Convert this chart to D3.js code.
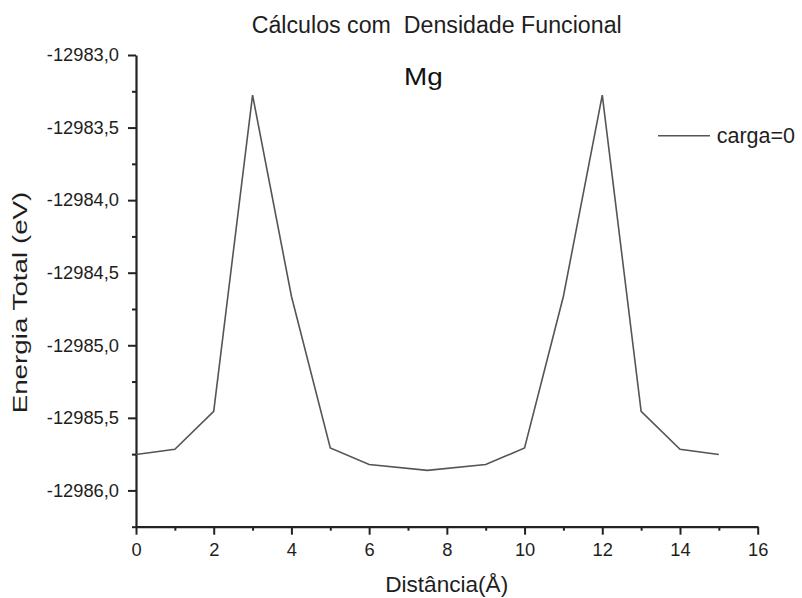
<!DOCTYPE html>
<html>
<head>
<meta charset="utf-8">
<script src="https://cdn.jsdelivr.net/npm/d3@7"></script>
<style>
  html, body { margin: 0; padding: 0; background: #ffffff; }
  svg { display: block; font-family: "Liberation Sans", Arial, sans-serif; }
</style>
</head>
<body>
<svg id="chart" width="802" height="598"></svg>
<script>
// Total energy versus distance (Mg, charge 0)
const distance = [0, 1, 2, 3, 4, 5, 6, 7.5, 9, 10, 11, 12, 13, 14, 15];
const energy = [
  -12985.752, -12985.717, -12985.455, -12983.276, -12984.662,
  -12985.708, -12985.821, -12985.862, -12985.821, -12985.708,
  -12984.662, -12983.276, -12985.455, -12985.717, -12985.752
];
const xMajorTicks = [0, 2, 4, 6, 8, 10, 12, 14, 16];
const xMinorTicks = [1, 3, 5, 7, 9, 11, 13, 15];
const yMajorTicks = [-12983.0, -12983.5, -12984.0, -12984.5, -12985.0, -12985.5, -12986.0];
const yMinorTicks = [-12983.25, -12983.75, -12984.25, -12984.75, -12985.25, -12985.75, -12986.25];

const titleText = "Cálculos com\u00a0 Densidade Funcional";
const panelLabel = "Mg";
const seriesName = "carga=0";
const xTitle = "Distância(Å)";
const yTitle = "Energia Total (eV)";

const svg = d3.select("#chart");
const plotLeft = 136, plotRight = 757.7, plotTop = 55, plotBottom = 526.7;

const x = d3.scaleLinear().domain([0, 16]).range([plotLeft, plotRight]);
const y = d3.scaleLinear().domain([-12986.25, -12983.0]).range([plotBottom, plotTop]);

const axisColor = "#222";
const textColor = "#1e1e1e";
const fmt = d => d3.format(".1f")(d).replace("−", "-").replace(".", ",");

// minor ticks first, then major axes drawn on top
const gxMinor = svg.append("g").attr("transform", `translate(0,${plotBottom})`)
  .call(d3.axisBottom(x).tickValues(xMinorTicks).tickSize(4).tickFormat(""));
const gyMinor = svg.append("g").attr("transform", `translate(${plotLeft},0)`)
  .call(d3.axisLeft(y).tickValues(yMinorTicks).tickSize(4).tickFormat(""));

const gx = svg.append("g").attr("transform", `translate(0,${plotBottom})`)
  .call(d3.axisBottom(x).tickValues(xMajorTicks).tickSize(8).tickSizeOuter(0).tickPadding(8).tickFormat(d3.format("d")));
const gy = svg.append("g").attr("transform", `translate(${plotLeft},0)`)
  .call(d3.axisLeft(y).tickValues(yMajorTicks).tickSize(8).tickSizeOuter(0).tickPadding(9).tickFormat(fmt));

[gxMinor, gyMinor].forEach(g => {
  g.select(".domain").remove();
  g.selectAll(".tick line").attr("stroke", axisColor).attr("stroke-width", 2);
});
[gx, gy].forEach(g => {
  g.select(".domain").attr("stroke", axisColor).attr("stroke-width", 2.2);
  g.selectAll(".tick line").attr("stroke", axisColor).attr("stroke-width", 2);
  g.selectAll(".tick text")
    .attr("fill", textColor)
    .style("font-size", "18.3px")
    .style("font-family", "'Liberation Sans', Arial, sans-serif");
});
gx.selectAll(".tick text").attr("dy", "0.72em");

// data line
const line = d3.line().x((d, i) => x(distance[i])).y(d => y(d));
svg.append("path")
  .datum(energy)
  .attr("d", line)
  .attr("fill", "none")
  .attr("stroke", "#555")
  .attr("stroke-width", 1.6)
  .attr("stroke-linejoin", "miter");

// titles (stretched to their drawn lengths)
function label(xPos, yPos, size, length, txt, rotate) {
  const t = svg.append("text")
    .attr("text-anchor", "middle")
    .attr("fill", textColor)
    .style("font-size", size + "px")
    .attr("textLength", length)
    .attr("lengthAdjust", "spacingAndGlyphs")
    .text(txt);
  if (rotate) {
    t.attr("transform", `translate(${xPos},${yPos}) rotate(-90)`);
  } else {
    t.attr("x", xPos).attr("y", yPos);
  }
  return t;
}

label(436.7, 32.5, 23.3, 370, titleText, false);
label(423.3, 85, 23.5, 38.7, panelLabel, false).attr("fill", "#111");
label(446.7, 592, 21.5, 123, xTitle, false);
label(26.5, 302.5, 19.5, 221.7, yTitle, true);

// legend
svg.append("line")
  .attr("x1", 658).attr("x2", 710)
  .attr("y1", 135.7).attr("y2", 135.7)
  .attr("stroke", "#555").attr("stroke-width", 1.6);
svg.append("text")
  .attr("x", 716.7).attr("y", 143.3)
  .attr("fill", textColor)
  .style("font-size", "21.5px")
  .text(seriesName);
</script>
</body>
</html>
